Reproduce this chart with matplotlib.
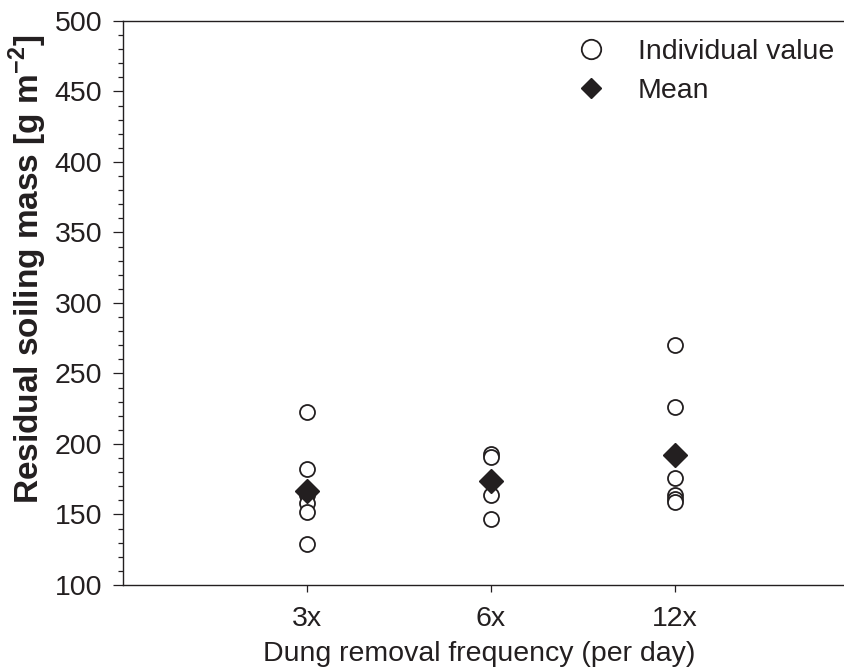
import matplotlib
matplotlib.use('Agg')
from matplotlib import pyplot as plt
from matplotlib.lines import Line2D
from matplotlib.ticker import MultipleLocator

# residual soiling mass per dung removal frequency
groups = ['3x', '6x', '12x']
vals_3x = [223, 182, 164, 158, 152, 129]
vals_6x = [193, 191, 164, 147]
vals_12x = [270, 226, 176, 164, 161, 159]
means = [167, 174, 192]

ink = '#231f20'
plt.rcParams['font.family'] = ['Liberation Sans', 'DejaVu Sans']
plt.rcParams['mathtext.fontset'] = 'custom'
plt.rcParams['mathtext.rm'] = 'Liberation Sans'
plt.rcParams['mathtext.bf'] = 'Liberation Sans:bold'
plt.rcParams['text.color'] = ink

fig = plt.figure(figsize=(8.45, 6.70), dpi=100)
ax = fig.add_axes([0.1456, 0.1269, 0.8544, 0.8418])

all_vals = [vals_3x, vals_6x, vals_12x]
for i, vals in enumerate(all_vals):
    ax.plot([i + 1] * len(vals), vals, 'o', ms=10.8, mfc='white', mec=ink,
            mew=1.3, ls='none')
ax.plot(range(1, len(groups) + 1), means, 'D', ms=12, color=ink, ls='none')

ax.set_xlim(0, 3.925)
ax.set_ylim(100, 500)
ax.set_xticks(range(1, len(groups) + 1))
ax.set_xticklabels(groups)
ax.yaxis.set_major_locator(MultipleLocator(50))
ax.yaxis.set_minor_locator(MultipleLocator(10))
ax.spines['right'].set_visible(False)
for s in ['left', 'top', 'bottom']:
    ax.spines[s].set_color(ink)
    ax.spines[s].set_linewidth(1.0)
ax.tick_params(axis='y', which='major', length=7, width=0.9, colors=ink,
               labelsize=20.5, pad=8)
ax.tick_params(axis='y', which='minor', length=3.5, width=0.9, colors=ink)
ax.tick_params(axis='x', which='major', length=5, width=0.9, colors=ink,
               labelsize=20.5, pad=10)

ax.set_ylabel(r'Residual soiling mass [g m$^{\mathbf{-2}}$]', fontsize=24,
              fontweight='bold', color=ink)
ax.yaxis.set_label_coords(-0.102, 0.56)
ax.set_xlabel('Dung removal frequency (per day)', fontsize=20.5, color=ink)
ax.xaxis.set_label_coords(0.494, -0.100)

handles = [Line2D([], [], marker='o', ls='none', ms=14, mfc='white', mec=ink, mew=1.3),
           Line2D([], [], marker='D', ls='none', ms=10, color=ink)]
ax.legend(handles, ['Individual value', 'Mean'], loc='upper left',
          bbox_to_anchor=(0.6324, 0.9677), frameon=False, fontsize=20.5,
          handlelength=0.8, handletextpad=1.25, labelspacing=0.45,
          borderpad=0, borderaxespad=0)

fig.savefig('out.png', dpi=100)
